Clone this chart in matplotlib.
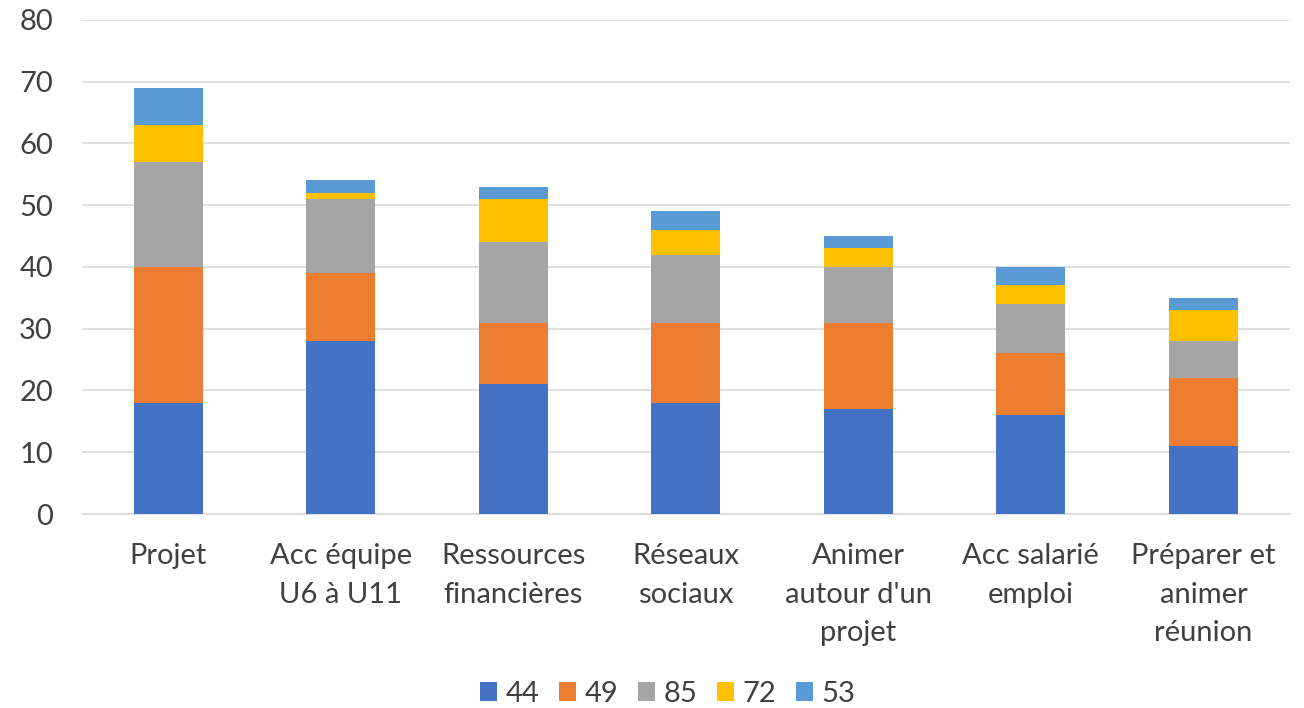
import numpy as np
import matplotlib.pyplot as plt

plt.rcParams['font.family'] = ['Lato', 'DejaVu Sans']

categories = ["Projet", "Acc équipe\nU6 à U11", "Ressources\nfinancières", "Réseaux\nsociaux",
              "Animer\nautour d'un\nprojet", "Acc salarié\nemploi", "Préparer et\nanimer\nréunion"]
series_names = ["44", "49", "85", "72", "53"]
s44 = [18, 28, 21, 18, 17, 16, 11]
s49 = [22, 11, 10, 13, 14, 10, 11]
s85 = [17, 12, 13, 11, 9, 8, 6]
s72 = [6, 1, 7, 4, 3, 3, 5]
s53 = [6, 2, 2, 3, 2, 3, 2]
colors = ["#4472C4", "#ED7D31", "#A5A5A5", "#FFC000", "#5B9BD5"]

fig = plt.figure(figsize=(13.04, 7.08), dpi=100)
ax = fig.add_axes([0.063, 0.274, 0.926, 0.698])

x = np.arange(len(categories))
bottom = np.zeros(len(categories))
for name, vals, c in zip(series_names, [s44, s49, s85, s72, s53], colors):
    ax.bar(x, vals, 0.4, bottom=bottom, color=c, label=name, zorder=3)
    bottom += np.array(vals)

ax.set_ylim(0, 80)
ax.set_yticks(range(0, 81, 10))
ax.set_xlim(-0.5, len(categories) - 0.5)
ax.set_xticks(x)
ax.set_xticklabels(categories, linespacing=1.6)
ax.yaxis.grid(True, color="#D9D9D9", linewidth=1.2, zorder=0)
for s in ["top", "right", "left"]:
    ax.spines[s].set_visible(False)
ax.spines["bottom"].set_color("#D9D9D9")
ax.spines["bottom"].set_linewidth(1.2)
ax.tick_params(axis="both", length=0, labelsize=21, colors="#404040")
ax.tick_params(axis="x", pad=21)
ax.tick_params(axis="y", pad=21)

fig.legend(loc="lower center", bbox_to_anchor=(0.512, -0.035), ncol=5, frameon=False,
           fontsize=21, handlelength=0.6, handleheight=0.6, handletextpad=0.3,
           columnspacing=0.65, labelcolor="#404040")

plt.savefig("out.png", dpi=100)
